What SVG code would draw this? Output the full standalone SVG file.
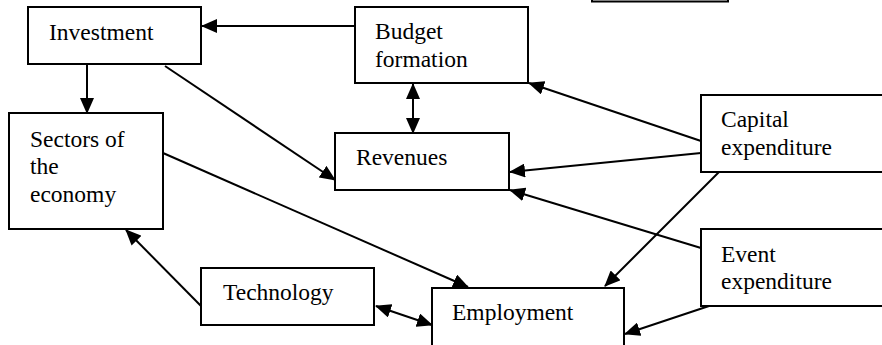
<svg xmlns="http://www.w3.org/2000/svg" width="882" height="345" viewBox="0 0 882 345">
<style>
.box{fill:#fff;stroke:#000;stroke-width:2}
.c{fill:none;stroke:#000;stroke-width:2}
text{font-family:'Liberation Serif','Times New Roman',serif;font-size:23.5px;fill:#000}
</style>
<defs>
<marker id="ah" viewBox="0 0 16 14" refX="15" refY="7" markerWidth="16" markerHeight="14" markerUnits="userSpaceOnUse" orient="auto-start-reverse">
<path d="M0,0 L16,7 L0,14 z" fill="#000"/>
</marker>
</defs>
<rect width="882" height="345" fill="#fff"/>
<g id="connectors">
<line class="c" x1="355" y1="26" x2="202" y2="26" marker-end="url(#ah)"/>
<line class="c" x1="87" y1="64" x2="87" y2="113" marker-end="url(#ah)"/>
<line class="c" x1="165" y1="66" x2="335" y2="180" marker-end="url(#ah)"/>
<line class="c" x1="413" y1="84" x2="413" y2="133" marker-start="url(#ah)" marker-end="url(#ah)"/>
<line class="c" x1="701" y1="141" x2="529" y2="83" marker-end="url(#ah)"/>
<line class="c" x1="701" y1="153" x2="510" y2="172" marker-end="url(#ah)"/>
<line class="c" x1="719" y1="172" x2="605" y2="286" marker-end="url(#ah)"/>
<line class="c" x1="163" y1="153" x2="468" y2="287" marker-end="url(#ah)"/>
<line class="c" x1="201" y1="306" x2="126" y2="230" marker-end="url(#ah)"/>
<line class="c" x1="376" y1="306" x2="432" y2="325" marker-start="url(#ah)" marker-end="url(#ah)"/>
<line class="c" x1="701" y1="248" x2="510" y2="190" marker-end="url(#ah)"/>
<line class="c" x1="709" y1="306" x2="625" y2="334" marker-end="url(#ah)"/>
</g>
<g id="top-box"><rect class="box" x="592" y="-20" width="136" height="21.5"/></g>
<g id="investment"><rect class="box" x="28" y="7" width="173" height="57"/><text x="49" y="40">Investment</text></g>
<g id="budget"><rect class="box" x="355" y="7" width="173" height="76"/><text x="375" y="39">Budget</text><text x="375" y="67">formation</text></g>
<g id="sectors"><rect class="box" x="9" y="113" width="154" height="116"/><text x="30" y="147">Sectors of</text><text x="30" y="174">the</text><text x="30" y="202">economy</text></g>
<g id="revenues"><rect class="box" x="335" y="133" width="174" height="57"/><text x="356" y="165">Revenues</text></g>
<g id="capital"><rect class="box" x="701" y="95" width="190" height="77"/><text x="721" y="127">Capital</text><text x="721" y="155">expenditure</text></g>
<g id="event"><rect class="box" x="701" y="229" width="190" height="77"/><text x="721" y="262">Event</text><text x="721" y="289">expenditure</text></g>
<g id="technology"><rect class="box" x="201" y="268" width="173" height="57"/><text x="223" y="300">Technology</text></g>
<g id="employment"><rect class="box" x="432" y="288" width="192" height="70"/><text x="452" y="320">Employment</text></g>
</svg>
